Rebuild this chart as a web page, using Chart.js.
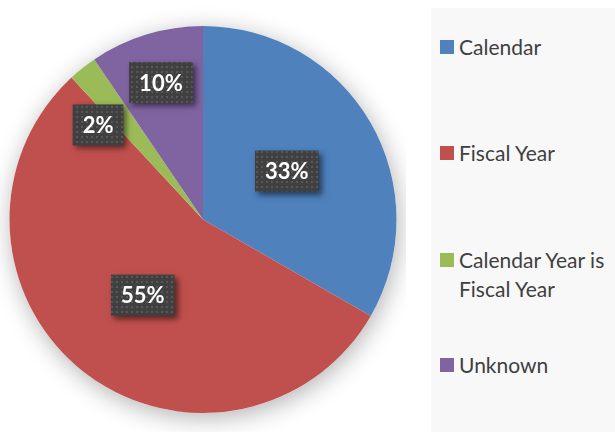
<!DOCTYPE html>
<html>
<head>
<meta charset="utf-8">
<script src="https://cdn.jsdelivr.net/npm/chart.js@4.4.0/dist/chart.umd.min.js"></script>
<style>
    body { margin: 0; background: #ffffff; }
    #wrap { position: relative; width: 615px; height: 432px; overflow: hidden; }
    #myChart { position: absolute; left: 0; top: 0; }
    #legend {
        position: absolute; left: 431px; top: 8px; width: 184px; height: 424px; overflow: hidden;
        background: #f8f8f8; font-family: Lato, "Open Sans", sans-serif; font-size: 21px; color: #404040;
    }
    .item { position: absolute; left: 9px; width: 175px; display: flex; align-items: flex-start; line-height: 29px; }
    .swatch { width: 14px; height: 14px; margin-top: 8px; margin-right: 5px; flex: none; }
    .txt { width: 160px; flex: none; }
</style>
</head>
<body>
<div id="wrap">
    <canvas id="myChart" width="406" height="432"></canvas>
    <div id="legend"></div>
</div>
<script>
// chart values
const categories = ['Calendar', 'Fiscal Year', 'Calendar Year is Fiscal Year', 'Unknown'];
const shares = [33.3, 54.8, 2.4, 9.5];
const pctLabels = ['33%', '55%', '2%', '10%'];
const colors = ['#4f81bd', '#c0504d', '#9bbb59', '#8064a2'];

// where each label sits (fraction of radius) and a small nudge for the tiny slice
const labelRadius = [0.5, 0.5, 0.73, 0.74];
const labelNudge = [[0, 0], [0, 0], [-17, 16], [0, 0]];
const legendTops = [24, 130, 237, 342];

const ctx = document.getElementById('myChart').getContext('2d');

// dotted texture for the label boxes
function makeDots() {
    const c = document.createElement('canvas');
    c.width = 5; c.height = 5;
    const g = c.getContext('2d');
    g.fillStyle = 'rgba(255,255,255,0.13)';
    g.fillRect(1, 1, 2, 2);
    return ctx.createPattern(c, 'repeat');
}
const dots = makeDots();

// soft shadow behind the whole pie
const pieShadow = {
    id: 'pieShadow',
    beforeDatasetsDraw(chart) {
        const arc = chart.getDatasetMeta(0).data[0];
        if (!arc) return;
        const c = chart.ctx;
        c.save();
        c.shadowColor = 'rgba(0,0,0,0.3)';
        c.shadowBlur = 24;
        c.shadowOffsetX = 2;
        c.shadowOffsetY = 5;
        c.fillStyle = '#ffffff';
        c.beginPath();
        c.arc(arc.x, arc.y, arc.outerRadius, 0, Math.PI * 2);
        c.fill();
        c.restore();
    }
};

// boxed percentage labels
const boxLabels = {
    id: 'boxLabels',
    afterDatasetsDraw(chart) {
        const c = chart.ctx;
        chart.getDatasetMeta(0).data.forEach((arc, i) => {
            const mid = (arc.startAngle + arc.endAngle) / 2;
            const r = arc.outerRadius * labelRadius[i];
            const x = arc.x + Math.cos(mid) * r + labelNudge[i][0];
            const y = arc.y + Math.sin(mid) * r + labelNudge[i][1];

            c.save();
            c.font = 'bold 22px Lato, "Open Sans", sans-serif';
            const w = c.measureText(pctLabels[i]).width + 20;
            const h = 41;
            c.shadowColor = 'rgba(0,0,0,0.55)';
            c.shadowBlur = 6;
            c.shadowOffsetX = 3;
            c.shadowOffsetY = 3;
            c.fillStyle = '#404040';
            c.fillRect(x - w / 2, y - h / 2, w, h);
            c.shadowColor = 'transparent';
            c.fillStyle = dots;
            c.fillRect(x - w / 2, y - h / 2, w, h);
            c.fillStyle = '#ffffff';
            c.textAlign = 'center';
            c.textBaseline = 'middle';
            c.fillText(pctLabels[i], x, y + 1);
            c.restore();
        });
    }
};

new Chart(ctx, {
    type: 'pie',
    data: {
        labels: categories,
        datasets: [{
            data: shares,
            backgroundColor: colors,
            borderWidth: 0
        }]
    },
    options: {
        responsive: false,
        animation: false,
        layout: { padding: { left: 8, right: 8, top: 26, bottom: 19 } },
        plugins: {
            legend: { display: false },
            tooltip: { enabled: false }
        }
    },
    plugins: [pieShadow, boxLabels]
});

// legend on the right
const legend = document.getElementById('legend');
categories.forEach((name, i) => {
    const item = document.createElement('div');
    item.className = 'item';
    item.style.top = legendTops[i] + 'px';
    item.innerHTML = '<span class="swatch" style="background:' + colors[i] + '"></span><span class="txt">' + name + '</span>';
    legend.appendChild(item);
});
</script>
</body>
</html>
